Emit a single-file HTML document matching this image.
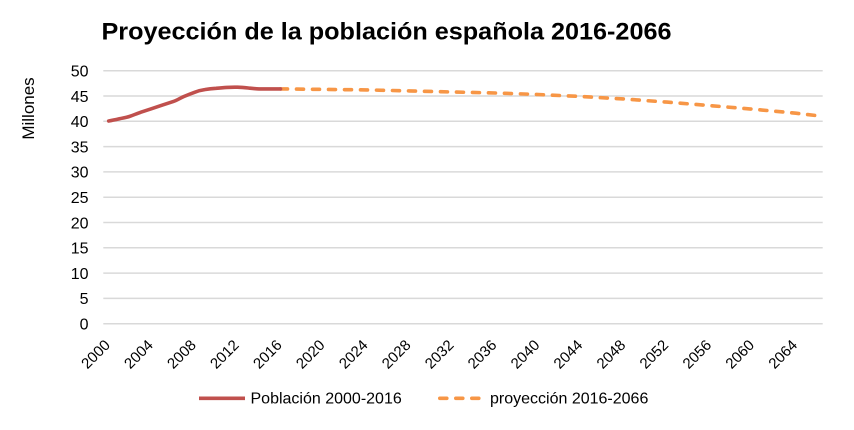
<!DOCTYPE html>
<html>
<head>
<meta charset="utf-8">
<style>
  html,body{margin:0;padding:0;background:#fff;}
  svg{display:block;}
  text{font-family:"Liberation Sans",Arial,sans-serif;fill:#000;}
</style>
</head>
<body>
<svg width="854" height="430" viewBox="0 0 854 430" xmlns="http://www.w3.org/2000/svg">
  <rect width="854" height="430" fill="#fff"/>
  <text x="101.5" y="39.3" font-size="24" font-weight="bold" textLength="570" lengthAdjust="spacingAndGlyphs">Proyección de la población española 2016-2066</text>

  <text transform="translate(34,108.5) rotate(-90)" text-anchor="middle" font-size="17">Millones</text>

  <g stroke="#d9d9d9" stroke-width="1.5">
    <line x1="103.3" y1="70.7" x2="822.7" y2="70.7"/>
    <line x1="103.3" y1="96" x2="822.7" y2="96"/>
    <line x1="103.3" y1="121.3" x2="822.7" y2="121.3"/>
    <line x1="103.3" y1="146.6" x2="822.7" y2="146.6"/>
    <line x1="103.3" y1="171.9" x2="822.7" y2="171.9"/>
    <line x1="103.3" y1="197.2" x2="822.7" y2="197.2"/>
    <line x1="103.3" y1="222.5" x2="822.7" y2="222.5"/>
    <line x1="103.3" y1="247.8" x2="822.7" y2="247.8"/>
    <line x1="103.3" y1="273.1" x2="822.7" y2="273.1"/>
    <line x1="103.3" y1="298.4" x2="822.7" y2="298.4"/>
    <line x1="103.3" y1="323.7" x2="822.7" y2="323.7"/>
  </g>

  <g font-size="16" text-anchor="end">
    <text x="88.5" y="76.5">50</text>
    <text x="88.5" y="101.8">45</text>
    <text x="88.5" y="127.1">40</text>
    <text x="88.5" y="152.4">35</text>
    <text x="88.5" y="177.7">30</text>
    <text x="88.5" y="203">25</text>
    <text x="88.5" y="228.3">20</text>
    <text x="88.5" y="253.6">15</text>
    <text x="88.5" y="278.9">10</text>
    <text x="88.5" y="304.2">5</text>
    <text x="88.5" y="329.5">0</text>
  </g>

  <g font-size="15" text-anchor="end">
    <text transform="translate(111,346) rotate(-45)">2000</text>
    <text transform="translate(153.9,346) rotate(-45)">2004</text>
    <text transform="translate(196.9,346) rotate(-45)">2008</text>
    <text transform="translate(239.8,346) rotate(-45)">2012</text>
    <text transform="translate(282.8,346) rotate(-45)">2016</text>
    <text transform="translate(325.7,346) rotate(-45)">2020</text>
    <text transform="translate(368.7,346) rotate(-45)">2024</text>
    <text transform="translate(411.6,346) rotate(-45)">2028</text>
    <text transform="translate(454.6,346) rotate(-45)">2032</text>
    <text transform="translate(497.5,346) rotate(-45)">2036</text>
    <text transform="translate(540.5,346) rotate(-45)">2040</text>
    <text transform="translate(583.4,346) rotate(-45)">2044</text>
    <text transform="translate(626.4,346) rotate(-45)">2048</text>
    <text transform="translate(669.3,346) rotate(-45)">2052</text>
    <text transform="translate(712.3,346) rotate(-45)">2056</text>
    <text transform="translate(755.2,346) rotate(-45)">2060</text>
    <text transform="translate(798.2,346) rotate(-45)">2064</text>
  </g>

  <!-- projection dashed -->
  <polyline fill="none" stroke="#F79646" stroke-width="3.6" stroke-linecap="round" stroke-linejoin="round" stroke-dasharray="7 9"
    points="280.5,88.9 323.4,89.4 366.4,89.9 409.3,90.9 452.3,92.0 495.2,93.0 538.2,94.5 581.1,96.5 624.1,99.0 667.0,102.1 710.0,105.6 752.9,109.2 795.9,113.2 817.4,115.7"/>

  <!-- historical population -->
  <path fill="none" stroke="#C0504D" stroke-width="3.6" stroke-linecap="round" stroke-linejoin="round"
    d="M108.7,121.0 C113,120.3 116,119.6 119.4,118.8 C123,117.9 126.5,117.6 130.2,116.2 C134,114.8 137,113.6 140.9,112.2 L151.6,108.7 L162.4,105.1 L173.1,101.6 C177,100.3 180,98.2 183.9,96.5 C188,94.8 190.5,93.8 194.6,92.3 C198.5,90.8 201,90.1 205.3,89.5 C209,88.9 212,88.6 216.1,88.3 C220,87.9 223,87.6 226.8,87.4 C230.5,87.2 234,87.1 237.5,87.2 C241.5,87.3 244.5,87.6 248.3,88.0 C252,88.4 255,88.8 259.0,88.9 L269.8,88.9 L280.5,88.9"/>

  <!-- legend -->
  <line x1="199" y1="398.3" x2="245" y2="398.3" stroke="#C0504D" stroke-width="3.6"/>
  <text x="250.5" y="403.5" font-size="16">Población 2000-2016</text>
  <line x1="439.8" y1="398.3" x2="480" y2="398.3" stroke="#F79646" stroke-width="3.6" stroke-linecap="round" stroke-dasharray="7 9"/>
  <text x="490" y="403.5" font-size="16">proyección 2016-2066</text>
</svg>
</body>
</html>
